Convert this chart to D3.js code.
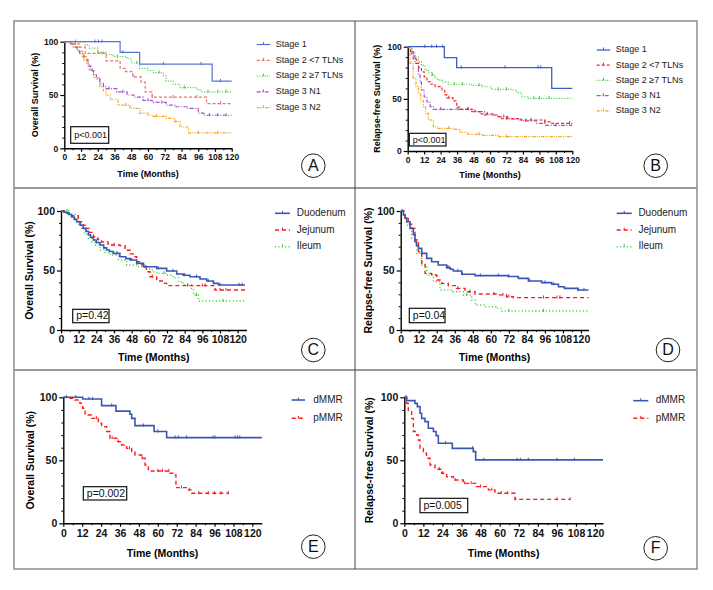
<!DOCTYPE html>
<html>
<head>
<meta charset="utf-8">
<script src="https://cdn.jsdelivr.net/npm/d3@7"></script>
<style>
  body { margin: 0; background: #fff; }
  text { font-family: "Liberation Sans", Arial, sans-serif; }
</style>
</head>
<body>
<script>
// tick values
var monthTicks = [0, 12, 24, 36, 48, 60, 72, 84, 96, 108, 120];
var monthMinor = [6, 18, 30, 42, 54, 66, 78, 90, 102, 114];
var survTicks = [0, 50, 100];
var survMinor = [10, 20, 30, 40, 60, 70, 80, 90];

// legend names
var stageNames = ["Stage 1", "Stage 2 <7 TLNs", "Stage 2 \u22657 TLNs", "Stage 3 N1", "Stage 3 N2"];
var siteNames = ["Duodenum", "Jejunum", "Ileum"];
var mmrNames = ["dMMR", "pMMR"];

// A - overall survival by stage  [month, survival %]
var aStage1 = [[0,100],[40,90],[54,79],[106,63],[120,63]];
var aStage1Cens = [22,24.5,27,42,71,98,112];
var aStage2lo = [[0,100],[5,98],[11,95],[15,89],[30,82],[40,75],[44,72],[49,67],[55,62],[58,53],[63,48],[102,42],[120,42]];
var aStage2loCens = [8,27,50,63,78,95,112];
var aStage2hi = [[0,100],[15,97],[18,94],[24,90],[30,88],[35,86],[45,84],[48,80],[54,75],[60,73],[64,71],[71,68],[73,63],[78,60],[83,57],[95,55],[98,53],[120,53]];
var aStage2hiCens = [8,24,38,52,68,86,103,110,116];
var aStage3n1 = [[0,100],[4,98],[6.5,95],[9,92],[11,89],[14,83],[17,77],[19,73],[21,69],[23,65],[25.5,61],[28,58],[30,56],[37.5,53],[45,50],[50,48],[56.5,45],[63,43],[73,40.5],[80,39],[88,37.5],[96,33],[100,31],[120,31]];
var aStage3n1Cens = [20,32,42,60,70,104,110,116];
var aStage3n2 = [[0,100],[4,98],[7.5,95],[10,91],[13,86],[16,80],[18,73],[21,66],[25.5,58],[28,54],[30,50],[33,46],[38.5,40.5],[47,37.5],[54,33],[60,31],[64,30],[73,28],[79,25],[83,20],[89,14.5],[120,14.5]];
var aStage3n2Cens = [44,66,80,96,110];

// B - relapse-free survival by stage
var bStage1 = [[0,100],[26.7,89.5],[35.7,80],[105,60],[120,60]];
var bStage1Cens = [12.5,17.5,21,25.5,39,71,95,97];
var bStage2lo = [[0,100],[2,95],[4,88],[6.5,84],[8,80],[10,76],[12,71],[14,66.5],[17,64],[20,61.7],[25,58.5],[27,54],[28.4,51],[33,48],[35.7,42],[39,40],[49,37.7],[52.7,35.5],[63.6,34.5],[66,33],[68.5,31],[80.6,29.7],[100,28],[105,26.5],[120,26.5]];
var bStage2loCens = [30,44,58,72,90,100,118];
var bStage2hi = [[0,100],[3,95],[5.3,90],[7.8,85.6],[10,82],[12.6,77.6],[15,75],[17.5,72.8],[20,70],[22,68],[25,66],[29.6,64],[46.6,63],[54,61.6],[61,59],[75.8,58.5],[79.4,56],[83,52],[88,50.5],[120,50.5]];
var bStage2hiCens = [18,34,40,52,66,72,92,96,103];
var bStage3n1 = [[0,100],[3,92],[5.3,84],[7.8,73],[9,66],[10,58.5],[12,52],[14,47],[16.3,42.5],[18.7,40],[39,40],[46.6,37.7],[56,34.5],[66,33],[73,30.7],[83,28.8],[94,26.5],[100,24.6],[120,24.6]];
var bStage3n1Cens = [24,36,44,70,86,108];
var bStage3n2 = [[0,100],[1.7,84],[4,69.6],[6,62],[7.8,55],[9.5,48],[11.4,42.5],[13,36],[15,29.7],[18.7,23],[22.3,21.7],[33,20.8],[38,18],[44,16],[54,15],[66,13.7],[120,13.2]];
var bStage3n2Cens = [30,52,72];

// C - overall survival by site
var cDuodenum = [[0,100],[2,99],[3.8,98.5],[5.5,97],[7.2,95],[9,93],[10.6,91],[13,88],[15,85.4],[17,83],[18.6,80],[20,78],[22,75.6],[24,73.5],[26.5,71.4],[29,69],[31,67.2],[33,66],[35.5,64.4],[40,61.6],[44,60],[47,58.8],[51.4,56],[56,53.2],[65,51.8],[71.8,49.6],[78.6,47],[83,46],[87.6,44.8],[94.4,42.8],[99,41.2],[103.5,39.2],[107,37.8],[125,37.8]];
var cDuodenumCens = [24,38,48,57,66,76,84,92,100,108,121,123];
var cJejunum = [[0,100],[4,98],[7.2,96],[11.8,91],[14,88],[16.3,85.4],[19,82],[22,78.4],[25,76],[27.6,74],[32,71.4],[40,70.9],[43.5,67],[47,64],[49,61.6],[51.4,57.4],[55,54.6],[58,49],[60.5,44.8],[65,41.2],[69.5,39.2],[71.8,37.3],[104.6,33.6],[125,33.6]];
var cJejunumCens = [36,62,86,96,98,108,112];
var cIleum = [[0,100],[5,97],[9.5,93.8],[12,89],[14,85.4],[16,81],[18.6,77],[21,74],[23,71.4],[26.5,67.2],[30,65],[33.3,63],[39,58.8],[44.6,54.6],[51.4,53.2],[58,51.2],[62,49],[65,47.6],[71.8,46.2],[76,44],[79.7,40.6],[83,37.8],[88.7,35],[90,29.4],[93.3,24.4],[125,24.4]];
var cIleumCens = [4,58,70,92,110];

// D - relapse-free survival by site
var dDuodenum = [[0,100],[1.8,96.6],[3,94],[4,91],[6.2,85.4],[8.4,80],[9.5,74.2],[10.5,71],[11.8,68.6],[14,64.4],[17.3,60.2],[20.6,57.4],[25,54.6],[30.6,52.4],[33,51],[35,49.6],[40.6,46.8],[49.5,45.7],[71.6,45],[78.3,43.4],[85,41.2],[93.8,39.8],[100.5,38.4],[105,36.4],[109,35],[118,33.6],[125,33.6]];
var dDuodenumCens = [1,31,32,38,41,53,65,72,86,96,102,118,122];
var dJejunum = [[0,100],[2.9,93.8],[5,89],[7.3,85.4],[9.5,75.6],[11.8,65.8],[14,56],[16.2,47.6],[20.6,46.2],[24,42],[27.3,39.2],[31.7,37.3],[37.3,35],[42.8,32.2],[49.5,30.3],[65,29.5],[70.5,28],[75,27.2],[125,27.2]];
var dJejunumCens = [38,46,62,68,72,95,104,106];
var dIleum = [[0,100],[2,94],[4,88],[7.3,77],[10.6,64.4],[14,54.6],[17.3,46.2],[21.7,40.6],[26.2,33.6],[35,32.2],[41.7,29.4],[47.2,25.2],[49.5,21],[56,19.6],[64,18.2],[67.2,16],[125,16]];
var dIleumCens = [44,72,95];

// E - overall survival by MMR status
var eDmmr = [[0,100],[12.3,98.7],[24.3,93.4],[33.4,89],[42.3,86.5],[43.4,83.3],[45.5,77.5],[57.6,72.8],[65.6,68],[126,68]];
var eDmmrCens = [2,8,16.3,18.6,30.7,50.8,60,71,73,78.3,95,96.3,109,110.5,112];
var ePmmr = [[0,100],[3.2,99.2],[7.4,97.9],[10.6,95.2],[12.3,91.3],[13.8,86],[18,83.3],[22.2,79.4],[24.3,76.7],[27.5,72.8],[29.6,67.5],[33.9,64.8],[37,62.2],[40.2,59.5],[43.4,56.9],[45.5,54.2],[49.7,51.6],[51.9,46.3],[54,41.5],[65.6,41.5],[67.7,39.7],[70.5,38.4],[71.5,28.3],[79.4,26.5],[81.5,23.8],[104.8,23.8]];
var ePmmrCens = [21,31,35,42,50,60,63,67,75,80,86,92,96,100,104.8];

// F - relapse-free survival by MMR status
var fDmmr = [[0,100],[1.5,97.4],[6.7,95.2],[8.2,92.6],[9.9,87.3],[10.9,83.3],[13,80.7],[15.1,75.4],[18.3,72.8],[20,69.6],[21.4,63.5],[30.2,59.5],[43.4,56.9],[44.9,50.3],[125,50.3]];
var fDmmrCens = [1,26,43,50,71,73,78,96,107];
var fPmmr = [[0,100],[1.5,95.2],[2.5,88.6],[4.6,83.3],[5.7,72.8],[7.8,70.1],[8.8,66.1],[9.9,59.5],[12,55.6],[14,51.6],[16.2,46.3],[19.3,42.9],[23.5,39.7],[26.6,37],[30.8,34.4],[37.1,31.7],[45.5,29.1],[52.9,26.5],[57,23.8],[69.6,19],[104.3,19]];
var fPmmrCens = [22,24,32,38,42,48,55,61,65,70,96,104.3];

// line styles
var sBlueA = {color: "#5574d4", dash: null, w: 1.2};
var sSalmon = {color: "#f26d6d", dash: "3,2", w: 1.2};
var sRedB = {color: "#ee2a2a", dash: "3,2", w: 1.2};
var sGreen = {color: "#45c845", dash: "1,1.6", w: 1.2};
var sPurple = {color: "#a152c9", dash: "4,1.5,1,1.5", w: 1.2};
var sOrange = {color: "#f7a21b", dash: "3,1.2,1,1.2,1,1.2", w: 1.2};
var sBlue = {color: "#3a56b8", dash: null, w: 1.6};
var sRed = {color: "#ff1a1a", dash: "4,3", w: 1.4};
var sGreen2 = {color: "#2fcc2f", dash: "1,2.4", w: 1.4};

var svg = d3.select("body")
  .append("svg")
    .attr("width", 713)
    .attr("height", 590);

// frame of the figure
svg.append("rect")
  .attr("x", 14).attr("y", 21).attr("width", 683).attr("height", 548)
  .attr("fill", "none").attr("stroke", "#8c8c8c").attr("stroke-width", 1.5);
[188, 370].forEach(function(yy) {
  svg.append("line").attr("x1", 14).attr("x2", 697).attr("y1", yy).attr("y2", yy)
    .attr("stroke", "#999").attr("stroke-width", 2);
});
svg.append("line").attr("x1", 355).attr("x2", 355).attr("y1", 21).attr("y2", 569)
  .attr("stroke", "#444").attr("stroke-width", 1);

function survAt(data, t) {
  var v = data[0][1];
  data.forEach(function(p) { if (p[0] <= t) v = p[1]; });
  return v;
}

function drawPanel(p) {
  var g = svg.append("g");
  var x = d3.scaleLinear().domain([0, p.xMax]).range([p.left, p.right]);
  var y = d3.scaleLinear().domain([0, 100]).range([p.bottom, p.top]);

  // minor ticks
  g.append("g").attr("transform", "translate(0," + p.bottom + ")")
    .call(d3.axisBottom(x).tickValues(monthMinor).tickSize(2).tickFormat(""))
    .call(function(a) { a.select(".domain").remove(); a.selectAll("line").attr("stroke-width", 1); });
  g.append("g").attr("transform", "translate(" + p.left + ",0)")
    .call(d3.axisLeft(y).tickValues(survMinor).tickSize(2).tickFormat(""))
    .call(function(a) { a.select(".domain").remove(); a.selectAll("line").attr("stroke-width", 1); });

  // X axis
  var xa = g.append("g").attr("transform", "translate(0," + p.bottom + ")")
    .call(d3.axisBottom(x).tickValues(monthTicks).tickSize(3.5).tickSizeOuter(0).tickPadding(2.5));
  // Y axis
  var ya = g.append("g").attr("transform", "translate(" + p.left + ",0)")
    .call(d3.axisLeft(y).tickValues(survTicks).tickSize(4).tickSizeOuter(0).tickPadding(2));
  [xa, ya].forEach(function(a) {
    a.select(".domain").attr("stroke-width", 1.4);
    a.selectAll(".tick line").attr("stroke-width", 1.2);
    a.selectAll("text").style("font-size", p.tick + "px").style("font-weight", "bold")
      .style("font-family", "'Liberation Sans', Arial, sans-serif").attr("fill", "#111");
  });

  // axis titles
  g.append("text")
    .attr("x", (p.left + p.right) / 2).attr("y", p.bottom + p.xTitle)
    .attr("text-anchor", "middle").style("font-size", p.title + "px").style("font-weight", "bold")
    .text("Time (Months)");
  g.append("text")
    .attr("transform", "translate(" + (p.left - p.yTitle) + "," + ((p.top + p.bottom) / 2) + ") rotate(-90)")
    .attr("text-anchor", "middle").attr("dominant-baseline", "middle")
    .style("font-size", p.title + "px").style("font-weight", "bold")
    .text(p.yLabel);

  // curves (reverse so the first group is on top)
  p.series.slice().reverse().forEach(function(s) {
    g.append("path")
      .datum(s.data)
      .attr("fill", "none")
      .attr("stroke", s.style.color)
      .attr("stroke-width", s.style.w)
      .attr("stroke-dasharray", s.style.dash)
      .attr("d", d3.line().curve(d3.curveStepAfter)
        .x(function(d) { return x(d[0]); })
        .y(function(d) { return y(d[1]); }));
    g.selectAll(null)
      .data(s.cens)
      .enter()
      .append("line")
        .attr("x1", function(d) { return x(d); })
        .attr("x2", function(d) { return x(d); })
        .attr("y1", function(d) { return y(survAt(s.data, d)) - 2.2; })
        .attr("y2", function(d) { return y(survAt(s.data, d)) + 1; })
        .attr("stroke", s.style.color)
        .attr("stroke-width", 1);
  });

  // legend
  p.series.forEach(function(s, i) {
    var ry = p.legY + i * p.legStep;
    g.append("line")
      .attr("x1", p.legX).attr("x2", p.legX + p.legLen).attr("y1", ry).attr("y2", ry)
      .attr("stroke", s.style.color).attr("stroke-width", s.style.w)
      .attr("stroke-dasharray", s.style.dash);
    g.append("line")
      .attr("x1", p.legX + p.legLen / 2).attr("x2", p.legX + p.legLen / 2)
      .attr("y1", ry - 2.5).attr("y2", ry)
      .attr("stroke", s.style.color).attr("stroke-width", 1);
    g.append("text")
      .attr("x", p.legX + p.legLen + p.legGap).attr("y", ry)
      .attr("dominant-baseline", "middle")
      .style("font-size", p.legFont + "px").attr("fill", "#222")
      .text(s.name);
  });

  // p value box
  g.append("rect")
    .attr("x", p.box[0]).attr("y", p.box[1]).attr("width", p.box[2]).attr("height", p.box[3])
    .attr("fill", "#fff").attr("stroke", "#111").attr("stroke-width", 1.2);
  g.append("text")
    .attr("x", p.box[0] + 3.5).attr("y", p.box[1] + p.box[3] / 2 + 0.5)
    .attr("dominant-baseline", "middle")
    .style("font-size", p.pFont + "px").attr("fill", "#111")
    .text(p.pText);

  // panel letter
  g.append("circle")
    .attr("cx", p.letter[0]).attr("cy", p.letter[1]).attr("r", 11.8)
    .attr("fill", "none").attr("stroke", "#222").attr("stroke-width", 1);
  g.append("text")
    .attr("x", p.letter[0]).attr("y", p.letter[1] + 0.8)
    .attr("text-anchor", "middle").attr("dominant-baseline", "middle")
    .style("font-size", "16px").attr("fill", "#111")
    .text(p.letter[2]);
}

var small = {tick: 8.5, title: 9, legFont: 9, pFont: 9, xTitle: 28.5, yTitle: 29};
var big = {tick: 10.5, title: 10.5, legFont: 10, pFont: 10.5, xTitle: 31, yTitle: 31};

function panel(base, extra) { return Object.assign({}, base, extra); }

drawPanel(panel(small, {
  left: 64.3, right: 231.7, top: 41.7, bottom: 148.3, xMax: 120,
  yLabel: "Overall Survival (%)",
  series: [
    {name: stageNames[0], data: aStage1, cens: aStage1Cens, style: sBlueA},
    {name: stageNames[1], data: aStage2lo, cens: aStage2loCens, style: sSalmon},
    {name: stageNames[2], data: aStage2hi, cens: aStage2hiCens, style: sGreen},
    {name: stageNames[3], data: aStage3n1, cens: aStage3n1Cens, style: sPurple},
    {name: stageNames[4], data: aStage3n2, cens: aStage3n2Cens, style: sOrange}
  ],
  legX: 256.7, legLen: 13.5, legGap: 5.5, legY: 44.5, legStep: 15.8,
  box: [70.7, 126.7, 38, 16.6], pText: "p<0.001",
  letter: [313.3, 165.7, "A"]
}));

drawPanel(panel(small, {
  left: 407.7, right: 572.3, top: 46.7, bottom: 151, xMax: 120, xTitle: 27, yTitle: 30,
  yLabel: "Relapse-free Survival (%)",
  series: [
    {name: stageNames[0], data: bStage1, cens: bStage1Cens, style: {color: "#3d5ec9", dash: null, w: 1.3}},
    {name: stageNames[1], data: bStage2lo, cens: bStage2loCens, style: sRedB},
    {name: stageNames[2], data: bStage2hi, cens: bStage2hiCens, style: sGreen},
    {name: stageNames[3], data: bStage3n1, cens: bStage3n1Cens, style: sPurple},
    {name: stageNames[4], data: bStage3n2, cens: bStage3n2Cens, style: sOrange}
  ],
  legX: 596.7, legLen: 13.5, legGap: 5.5, legY: 50, legStep: 15.2,
  box: [409.3, 133.3, 36.7, 12.7], pText: "p<0.001",
  letter: [655.7, 165.7, "B"]
}));

drawPanel(panel(big, {
  left: 61, right: 246.5, top: 211, bottom: 330, xMax: 126,
  yLabel: "Overall Survival (%)",
  series: [
    {name: siteNames[0], data: cDuodenum, cens: cDuodenumCens, style: sBlue},
    {name: siteNames[1], data: cJejunum, cens: cJejunumCens, style: sRed},
    {name: siteNames[2], data: cIleum, cens: cIleumCens, style: sGreen2}
  ],
  legX: 275, legLen: 15, legGap: 6.7, legY: 213.3, legStep: 16.7,
  box: [72.7, 309.3, 36.3, 13.4], pText: "p=0.42",
  letter: [313.3, 350, "C"]
}));

drawPanel(panel(big, {
  left: 400.7, right: 588.5, top: 211, bottom: 330, xMax: 125,
  yLabel: "Relapse-free Survival (%)",
  series: [
    {name: siteNames[0], data: dDuodenum, cens: dDuodenumCens, style: sBlue},
    {name: siteNames[1], data: dJejunum, cens: dJejunumCens, style: sRed},
    {name: siteNames[2], data: dIleum, cens: dIleumCens, style: sGreen2}
  ],
  legX: 616.7, legLen: 15, legGap: 6.7, legY: 213.3, legStep: 16.7,
  box: [409.3, 308.3, 35.7, 14.4], pText: "p=0.04",
  letter: [668, 350, "D"]
}));

drawPanel(panel(big, {
  left: 63.3, right: 261.8, top: 397.3, bottom: 523.3, xMax: 126, xTitle: 33.5, yTitle: 31.6,
  yLabel: "Overall Survival (%)",
  series: [
    {name: mmrNames[0], data: eDmmr, cens: eDmmrCens, style: sBlue},
    {name: mmrNames[1], data: ePmmr, cens: ePmmrCens, style: sRed}
  ],
  legX: 291.7, legLen: 13.3, legGap: 8.3, legY: 400, legStep: 18.3,
  box: [83.3, 486.7, 43.4, 13.3], pText: "p=0.002",
  letter: [313.3, 546.7, "E"]
}));

drawPanel(panel(big, {
  left: 404.3, right: 603, top: 397.3, bottom: 523.3, xMax: 125, xTitle: 33.5, yTitle: 34,
  yLabel: "Relapse-free Survival (%)",
  series: [
    {name: mmrNames[0], data: fDmmr, cens: fDmmrCens, style: sBlue},
    {name: mmrNames[1], data: fPmmr, cens: fPmmrCens, style: sRed}
  ],
  legX: 633.3, legLen: 15, legGap: 7.4, legY: 400.7, legStep: 17.6,
  box: [420, 498.3, 47.7, 14.4], pText: "p=0.005",
  letter: [655.7, 548.3, "F"]
}));
</script>
</body>
</html>
